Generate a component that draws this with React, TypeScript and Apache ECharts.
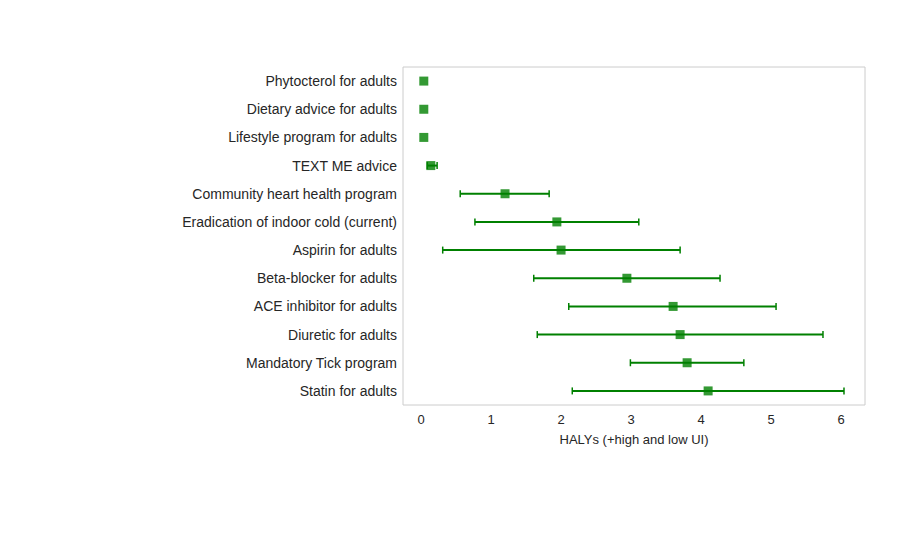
import React, { useEffect, useRef } from "react";
import * as echarts from "echarts";

const categories = [
  "Phytocterol for adults",
  "Dietary advice for adults",
  "Lifestyle program for adults",
  "TEXT ME advice",
  "Community heart health program",
  "Eradication of indoor cold (current)",
  "Aspirin for adults",
  "Beta-blocker for adults",
  "ACE inhibitor for adults",
  "Diuretic for adults",
  "Mandatory Tick program",
  "Statin for adults",
];
const centers = [0.04, 0.04, 0.04, 0.14, 1.2, 1.94, 2.0, 2.94, 3.6, 3.7, 3.8, 4.1];
const lows = [0.04, 0.04, 0.04, 0.09, 0.56, 0.77, 0.31, 1.61, 2.11, 1.66, 2.99, 2.16];
const highs = [0.04, 0.04, 0.04, 0.23, 1.83, 3.11, 3.7, 4.27, 5.07, 5.74, 4.61, 6.04];
const xTicks = [0, 1, 2, 3, 4, 5, 6];

export default function App() {
  const ref = useRef<HTMLDivElement>(null);
  useEffect(() => {
    const chart = echarts.init(ref.current!, null, { renderer: "svg" });
    const font = "Liberation Sans, Arial, sans-serif";
    chart.setOption({
      animation: false,
      textStyle: { fontFamily: font },
      grid: { left: 395, top: 59, width: 462, height: 338, show: true, borderColor: "#cccccc", borderWidth: 1, backgroundColor: "#fff" },
      xAxis: {
        type: "value",
        min: -0.257,
        max: 6.34,
        name: "HALYs (+high and low UI)",
        nameLocation: "middle",
        nameGap: 28,
        nameTextStyle: { color: "#262626", fontSize: 13, fontFamily: font },
        axisLine: { show: false },
        axisTick: { show: false },
        splitLine: { show: false },
        axisLabel: {
          color: "#262626",
          fontSize: 13,
          fontFamily: font,
          customValues: xTicks,
        },
        axisTick2: undefined,
      },
      yAxis: {
        type: "category",
        data: categories,
        inverse: true,
        axisLine: { show: false },
        axisTick: { show: false },
        splitLine: { show: false },
        axisLabel: { color: "#262626", fontSize: 14, fontFamily: font, margin: 6 },
      },
      series: [
        {
          type: "custom",
          data: categories.map((_, i) => [i, lows[i], highs[i]]),
          renderItem: (params: any, api: any) => {
            const i = api.value(0);
            const lo = api.coord([api.value(1), i]);
            const hi = api.coord([api.value(2), i]);
            if (api.value(2) - api.value(1) <= 0) return { type: "group", children: [] };
            const style = { stroke: "#008000", lineWidth: 2 };
            const cap = 3.5;
            return {
              type: "group",
              children: [
                { type: "line", shape: { x1: lo[0], y1: lo[1], x2: hi[0], y2: hi[1] }, style },
                { type: "line", shape: { x1: lo[0], y1: lo[1] - cap, x2: lo[0], y2: lo[1] + cap }, style: { stroke: "#008000", lineWidth: 1.5 } },
                { type: "line", shape: { x1: hi[0], y1: hi[1] - cap, x2: hi[0], y2: hi[1] + cap }, style: { stroke: "#008000", lineWidth: 1.5 } },
              ],
            };
          },
          encode: { x: [1, 2], y: 0 },
          z: 2,
        },
        {
          type: "scatter",
          symbol: "rect",
          symbolSize: 9,
          itemStyle: { color: "#008000" },
          data: categories.map((c, i) => [centers[i], c]),
          z: 3,
        },
      ],
    });
    return () => chart.dispose();
  }, []);
  return <div ref={ref} style={{ width: 908, height: 544 }} />;
}
